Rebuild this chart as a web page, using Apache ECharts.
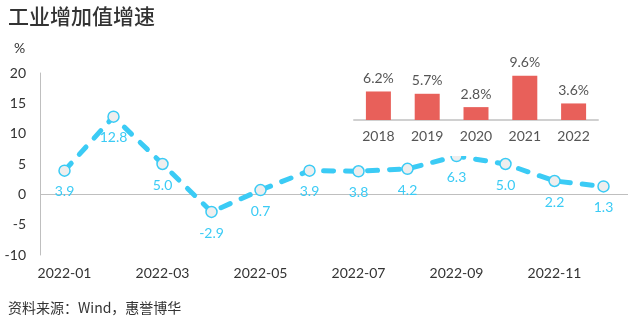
<!DOCTYPE html>
<html><head><meta charset="utf-8">
<script src="https://cdn.jsdelivr.net/npm/echarts@6/dist/echarts.min.js"></script>
<style>html,body{margin:0;padding:0;background:#fff}#c{width:643px;height:329px}</style>
</head><body><div id="c"></div>
<script>
const months = ['2022-01','2022-02','2022-03','2022-04','2022-05','2022-06','2022-07','2022-08','2022-09','2022-10','2022-11','2022-12'];
const growth = [3.9, 12.8, 5.0, -2.9, 0.7, 3.9, 3.8, 4.2, 6.3, 5.0, 2.2, 1.3];
const years = ['2018','2019','2020','2021','2022'];
const annual = [6.2, 5.7, 2.8, 9.6, 3.6];
const titleText = '工业增加值增速';
const sourceText = '资料来源：Wind，惠誉博华';

const cyan = '#3BCBF5';
const chart = echarts.init(document.getElementById('c'));
chart.setOption({
  animation: false,
  backgroundColor: '#fff',
  graphic: [
    {type:'text', left: 8, top: 6, style:{text: titleText, font: '500 21px "Noto Sans CJK SC"', fill:'#333'}},
    {type:'text', left: 14, top: 41, style:{text: '%', font: '14px Lato', fill:'#333'}},
    {type:'text', left: 8, top: 301, style:{text: sourceText, font: '14px "Noto Sans CJK SC"', fill:'#333'}},
    {type:'rect', left: 345, top: 50, z: 50, shape:{width: 270, height: 106}, style:{fill:'#fff'}}
  ],
  grid: [
    {left: 40, right: 15, top: 73, bottom: 74},
    {left: 354, width: 244, top: 74, height: 46}
  ],
  xAxis: [
    {type:'category', data: months, gridIndex:0, boundaryGap:true,
     axisLine:{show:false}, axisTick:{show:false},
     axisLabel:{interval:1, margin:11, color:'#333', fontSize:14, fontFamily:'Lato'}},
    {type:'category', data: years, gridIndex:1, z:60,
     axisLine:{show:true, lineStyle:{color:'#d0d0d0', width:2}}, axisTick:{show:false},
     axisLabel:{margin:9, color:'#555', fontSize:14, fontFamily:'Lato'}}
  ],
  yAxis: [
    {type:'value', gridIndex:0, min:-10, max:20, interval:5,
     axisLine:{show:true, lineStyle:{color:'#bfbfbf'}}, axisTick:{show:false},
     splitLine:{show:false},
     axisLabel:{margin:14, color:'#333', fontSize:14, fontFamily:'Lato'}},
    {type:'value', gridIndex:1, min:0, max:10, show:false}
  ],
  series: [
    {type:'line', xAxisIndex:0, yAxisIndex:0, data: growth, z:3,
     symbol:'circle', symbolSize:11,
     itemStyle:{color:'#eeeeee', borderColor:cyan, borderWidth:1.5},
     lineStyle:{color:cyan, width:5, type:[10,12], cap:'round'},
     label:{show:true, position:'bottom', distance:8, color:cyan, fontSize:14, fontFamily:'Lato',
            formatter: p => p.value.toFixed(1)},
     markLine:{silent:true, symbol:'none', label:{show:false},
               lineStyle:{color:'#bfbfbf', type:'solid', width:1}, z:1,
               data:[{yAxis:0}]}
    },
    {type:'bar', xAxisIndex:1, yAxisIndex:1, data: annual, barWidth:25, z:60,
     itemStyle:{color:'#E8605A'},
     label:{show:true, position:'top', distance:6, color:'#555', fontSize:14, fontFamily:'Lato',
            formatter: p => p.value.toFixed(1) + '%'}}
  ]
});
</script></body></html>
